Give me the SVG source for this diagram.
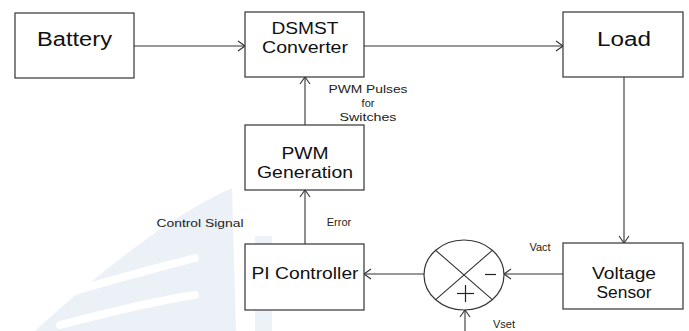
<svg xmlns="http://www.w3.org/2000/svg" width="689" height="331" viewBox="0 0 689 331">
  <style>
    .box { fill: #ffffff; stroke: #333333; stroke-width: 1.2; }
    .wire { fill: none; stroke: #333333; stroke-width: 1.1; }
    .big { font-family: "Liberation Sans", Arial, sans-serif; font-size: 20px; fill: #111111; text-anchor: middle; }
    .mid { font-family: "Liberation Sans", Arial, sans-serif; font-size: 16px; fill: #111111; text-anchor: middle; }
    .small { font-family: "Liberation Sans", Arial, sans-serif; font-size: 11px; fill: #222222; text-anchor: middle; }
    .sign { fill: none; stroke: #222222; stroke-width: 1.2; }
  </style>
  <defs>
    <marker id="arrow" viewBox="0 0 10 12" refX="10" refY="6" markerWidth="10" markerHeight="12" markerUnits="userSpaceOnUse" orient="auto">
      <path d="M3,1 L10,6 L3,11" fill="none" stroke="#333333" stroke-width="1.1"/>
    </marker>
  </defs>

  <rect width="689" height="331" fill="#ffffff"/>

  <!-- faint background seal -->
  <g id="backdrop" opacity="0.5">
    <path d="M35,331 C90,280 170,215 232,188 L236,331 Z" fill="#dbe5f3"/>
    <path d="M30,305 C90,285 150,270 195,258" fill="none" stroke="#ffffff" stroke-width="8" stroke-linecap="round"/>
    <path d="M60,325 C110,312 160,300 195,295" fill="none" stroke="#ffffff" stroke-width="8" stroke-linecap="round"/>
    <rect x="255" y="236" width="17" height="95" fill="#dbe5f3"/>
  </g>

  <!-- connectors -->
  <g id="connectors">
    <line class="wire" x1="134" y1="46" x2="245" y2="46" marker-end="url(#arrow)"/>
    <line class="wire" x1="364" y1="46" x2="563" y2="46" marker-end="url(#arrow)"/>
    <line class="wire" x1="624" y1="77" x2="624" y2="243" marker-end="url(#arrow)"/>
    <line class="wire" x1="563" y1="274" x2="504" y2="274" marker-end="url(#arrow)"/>
    <line class="wire" x1="424" y1="274" x2="364" y2="274" marker-end="url(#arrow)"/>
    <line class="wire" x1="305" y1="244" x2="305" y2="190" marker-end="url(#arrow)"/>
    <line class="wire" x1="305" y1="125" x2="305" y2="77" marker-end="url(#arrow)"/>
    <line class="wire" x1="465" y1="331" x2="465" y2="310" marker-end="url(#arrow)"/>
    <text class="small" x="368" y="93" textLength="79" lengthAdjust="spacingAndGlyphs">PWM Pulses</text>
    <text class="small" x="368" y="107">for</text>
    <text class="small" x="368" y="121" textLength="57" lengthAdjust="spacingAndGlyphs">Switches</text>
    <text class="small" x="200" y="227" textLength="87" lengthAdjust="spacingAndGlyphs">Control Signal</text>
    <text class="small" x="339" y="226">Error</text>
    <text class="small" x="540" y="251">Vact</text>
    <text class="small" x="504" y="328">Vset</text>
  </g>

  <g id="battery">
    <rect class="box" x="15" y="13" width="119" height="65"/>
    <text class="big" x="74.5" y="46" textLength="75" lengthAdjust="spacingAndGlyphs">Battery</text>
  </g>

  <g id="converter">
    <rect class="box" x="245" y="12" width="119" height="65"/>
    <text class="mid" x="305" y="34" textLength="67" lengthAdjust="spacingAndGlyphs">DSMST</text>
    <text class="mid" x="305" y="53" textLength="86" lengthAdjust="spacingAndGlyphs">Converter</text>
  </g>

  <g id="load">
    <rect class="box" x="563" y="12" width="120" height="65"/>
    <text class="big" x="624" y="46" textLength="54" lengthAdjust="spacingAndGlyphs">Load</text>
  </g>

  <g id="pwm-generation">
    <rect class="box" x="245" y="125" width="119" height="65"/>
    <text class="mid" x="305" y="159" textLength="47" lengthAdjust="spacingAndGlyphs">PWM</text>
    <text class="mid" x="305" y="178" textLength="96" lengthAdjust="spacingAndGlyphs">Generation</text>
  </g>

  <g id="pi-controller">
    <rect class="box" x="245" y="244" width="119" height="66"/>
    <text class="mid" x="305" y="279" textLength="107" lengthAdjust="spacingAndGlyphs">PI Controller</text>
  </g>

  <g id="voltage-sensor">
    <rect class="box" x="563" y="243" width="120" height="66"/>
    <text class="mid" x="624" y="279" textLength="64" lengthAdjust="spacingAndGlyphs">Voltage</text>
    <text class="mid" x="624" y="298" textLength="55" lengthAdjust="spacingAndGlyphs">Sensor</text>
  </g>

  <g id="summing-junction">
    <ellipse class="box" cx="464" cy="275" rx="40" ry="35"/>
    <line class="wire" x1="435.7" y1="250.3" x2="492.3" y2="299.7"/>
    <line class="wire" x1="492.3" y1="250.3" x2="435.7" y2="299.7"/>
    <line class="sign" x1="485" y1="274.5" x2="496" y2="274.5"/>
    <line class="sign" x1="457" y1="293.5" x2="474" y2="293.5"/>
    <line class="sign" x1="465.5" y1="285" x2="465.5" y2="302"/>
  </g>
</svg>
